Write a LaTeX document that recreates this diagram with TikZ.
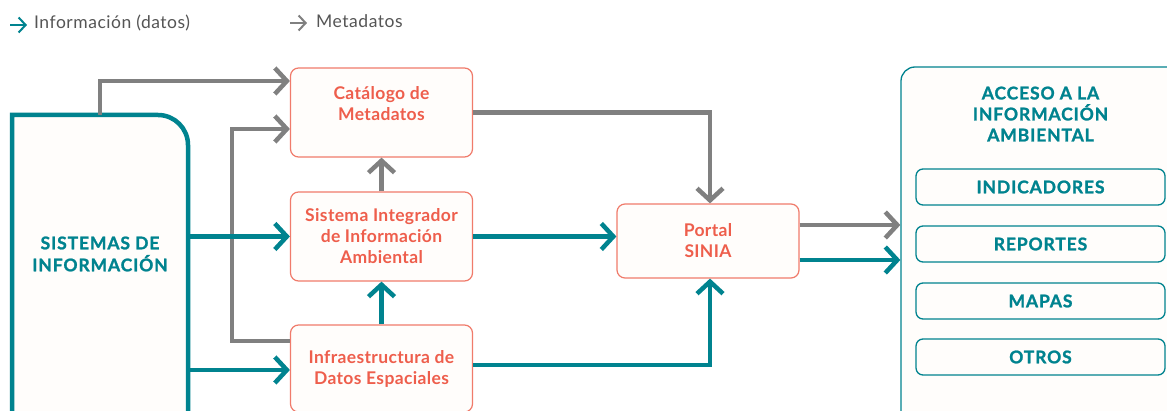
\documentclass[tikz,border=0pt]{standalone}
\usepackage{fontspec}
\setmainfont{Lato}
\newfontfamily\capsfont[LetterSpace=5,BoldFeatures={FakeBold=1.3}]{Lato}
\newfontfamily\boxfont[LetterSpace=2]{Lato}
\newfontfamily\legfont[LetterSpace=3]{Lato}
\usetikzlibrary{arrows.meta,calc}
\definecolor{teal}{HTML}{00838F}
\definecolor{gry}{HTML}{808080}
\definecolor{coral}{HTML}{EE5E4C}
\definecolor{coralb}{HTML}{F07B6B}
\definecolor{txtg}{HTML}{555555}
\definecolor{paper}{HTML}{FFFDFB}
\tikzset{
  every picture/.style={x=1pt,y=-1pt},
  chev/.style={-{Straight Barb[length=12pt,width=26pt]}},
  dat/.style={draw=teal,line width=4.5pt,chev},
  meta/.style={draw=gry,line width=4.5pt,chev},
  pbox/.style={draw=coralb,line width=1.2pt,fill=paper,rounded corners=8pt,
    minimum width=182pt,text=coral,font=\boxfont\fontsize{17.5}{21}\selectfont\bfseries,align=center,inner sep=0pt},
  ibox/.style={draw=teal,line width=1.3pt,fill=paper,rounded corners=7pt,
    minimum width=249pt,minimum height=36pt,text=teal,font=\capsfont\fontsize{17.5}{21}\selectfont\bfseries,inner sep=0pt},
  legtxt/.style={text=txtg,font=\legfont\fontsize{17.5}{20}\selectfont,anchor=west,inner sep=0pt},
}
\begin{document}
\begin{tikzpicture}
\useasboundingbox (0,0) rectangle (1167,411);
\clip (0,0) rectangle (1167,411);
\fill[white] (0,0) rectangle (1167,411);
% legend
\coordinate (l1a) at (10,25);
\coordinate (l1b) at (27,25);
\draw[draw=teal,line width=2pt,-{Straight Barb[length=7pt,width=15pt]}] (l1a) -- (l1b);
\node[legtxt] (leg1) at (34,23.5) {Información (datos)};
\coordinate (l2a) at (290,23);
\coordinate (l2b) at (307,23);
\draw[draw=gry,line width=2pt,-{Straight Barb[length=7pt,width=15pt]}] (l2a) -- (l2b);
\node[legtxt] (leg2) at (316,21.5) {Metadatos};
% Sistemas de informacion
\node[minimum width=176pt,minimum height=315pt,inner sep=0pt] (sis) at (100,272.5) {};
\fill[paper] (12,430) -- (12,115) -- (158,115) arc[start angle=90,end angle=0,radius=30pt] -- (188,430) -- cycle;
\draw[teal,line width=4.5pt] (12,430) -- (12,115) -- (158,115) arc[start angle=90,end angle=0,radius=30pt] -- (188,430);
\node[text=teal,font=\capsfont\fontsize{17.5}{22}\selectfont\bfseries,align=center] (sistxt) at (100,254) {SISTEMAS DE\\INFORMACIÓN};
% middle boxes
\node[pbox,minimum height=89pt] (cat) at (381.5,112.5) {Catálogo de\\Metadatos\\[-9pt]\strut};
\node[pbox,minimum height=89pt] (sia) at (381.5,236.5) {Sistema Integrador\\de Información\\Ambiental};
\node[pbox,minimum height=87pt] (ids) at (381.5,368.5) {Infraestructura de\\Datos Espaciales};
\node[pbox,minimum height=74pt] (portal) at (708,241) {Portal\\SINIA};
% access
\node[draw=teal,line width=1.3pt,fill=paper,rounded corners=14pt,minimum width=280pt,minimum height=360pt,inner sep=0pt] (acc) at (1041,247) {};
\node[text=teal,font=\capsfont\fontsize{17.5}{21}\selectfont\bfseries,align=center] (acctxt) at (1040.5,114) {ACCESO A LA\\INFORMACIÓN\\AMBIENTAL};
\node[ibox] (ind) at (1040.5,187) {INDICADORES};
\node[ibox] (rep) at (1040.5,244) {REPORTES};
\node[ibox] (map) at (1040.5,301) {MAPAS};
\node[ibox] (otr) at (1040.5,357) {OTROS};
% connectors
\draw[meta] (sis.north) |- ([yshift=31.5pt]cat.west);
\draw[meta] ([yshift=27.5pt]ids.west) -- ++(-58,0) |- ([yshift=-16.5pt]cat.west);
\draw[dat] (sis.east |- sia.west) -- (sia.west);
\draw[dat] ([yshift=-1.5pt]sis.east |- ids.west) -- ([yshift=-1.5pt]ids.west);
\draw[meta] (sia.north) -- (cat.south);
\draw[dat] (ids.north) -- (sia.south);
\draw[meta] (cat.east) -| ([xshift=2pt]portal.north);
\draw[dat] (sia.east) -- (sia.east -| portal.west);
\draw[dat] ([yshift=3.5pt]ids.east) -| ([xshift=2pt]portal.south);
\coordinate (p1) at ([yshift=16pt]portal.east);
\coordinate (p2) at ([yshift=-19pt]portal.east);
\draw[meta] (p1) -- (p1 -| acc.west);
\draw[dat] (p2) -- (p2 -| acc.west);
\end{tikzpicture}
\end{document}
